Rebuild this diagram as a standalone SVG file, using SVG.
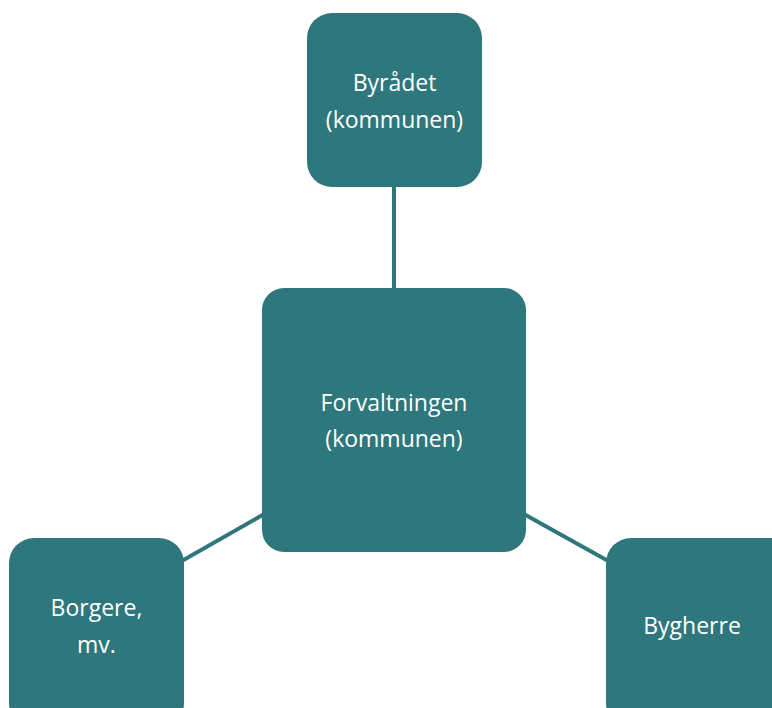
<svg xmlns="http://www.w3.org/2000/svg" width="772" height="708" viewBox="0 0 772 708">
<style>
.node{fill:#2e777c}
.lbl{font-family:"Open Sans","Noto Sans",sans-serif;font-size:23px;fill:#ffffff;text-anchor:middle}
.edge{stroke:#2e777c;stroke-width:4;fill:none}
</style>
<rect width="772" height="708" fill="#ffffff"/>
<g id="connectors">
<line class="edge" x1="394" y1="185" x2="394" y2="292"/>
<line class="edge" x1="180" y1="562" x2="266" y2="513"/>
<line class="edge" x1="522" y1="513" x2="610" y2="562"/>
</g>
<g id="node-byraadet">
<rect class="node" x="307" y="13" width="175" height="174" rx="25"/>
<text class="lbl" x="394.5" y="91">Byrådet</text>
<text class="lbl" x="394.5" y="128">(kommunen)</text>
</g>
<g id="node-forvaltningen">
<rect class="node" x="262" y="288" width="264" height="264" rx="22"/>
<text class="lbl" x="394" y="411">Forvaltningen</text>
<text class="lbl" x="394" y="447">(kommunen)</text>
</g>
<g id="node-borgere">
<rect class="node" x="9" y="538" width="175" height="190" rx="25"/>
<text class="lbl" x="96.5" y="616">Borgere,</text>
<text class="lbl" x="96.5" y="653">mv.</text>
</g>
<g id="node-bygherre">
<rect class="node" x="606" y="538" width="190" height="190" rx="25"/>
<text class="lbl" x="692" y="634">Bygherre</text>
</g>
</svg>
